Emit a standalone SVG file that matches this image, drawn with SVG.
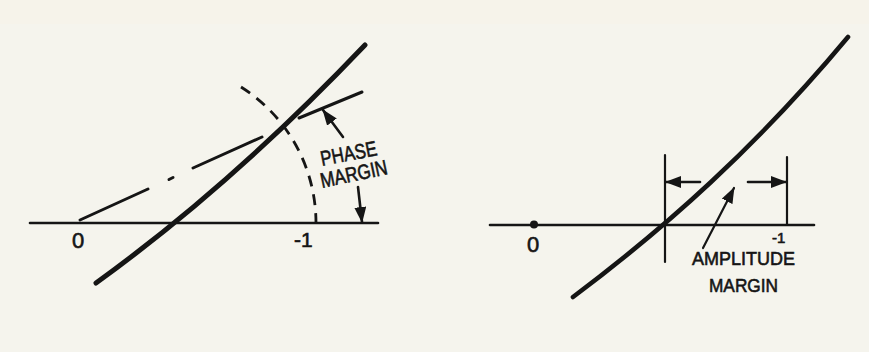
<svg xmlns="http://www.w3.org/2000/svg" width="869" height="352" viewBox="0 0 869 352">
<defs>
<style>
.ink{stroke:#151515;fill:none;stroke-linecap:round}
.axis{stroke-width:2.6}
.curve{stroke-width:5}
.thin{stroke-width:2.2}
.dd{stroke-width:3}
.arc{stroke-width:2.8;stroke-dasharray:11 8;stroke-linecap:butt}
.lbl{font-family:"Liberation Sans",Arial,sans-serif;fill:#151515;stroke:#151515;stroke-width:0.6}
</style>
<marker id="ah" viewBox="0 0 16 12" refX="15" refY="6" markerWidth="16" markerHeight="12" markerUnits="userSpaceOnUse" orient="auto">
<path d="M0,0 L16,6 L0,12 Z" fill="#151515"/>
</marker>
</defs>
<rect width="869" height="352" fill="#f5f4ed"/>
<rect width="869" height="24" fill="#f8f1e7" opacity="0.5"/>

<g id="left-axis"><line class="ink axis" x1="30" y1="223" x2="378" y2="223"/></g>
<g id="left-curve"><path class="ink curve" d="M96,283 C186,218 275,139.5 365,45"/></g>
<g id="left-dashdot">
<line class="ink dd" x1="80" y1="220" x2="148" y2="189"/>
<line class="ink dd" x1="169" y1="179.5" x2="173" y2="177.5"/>
<line class="ink dd" x1="193" y1="168" x2="262" y2="137"/>
<line class="ink dd" x1="299" y1="118" x2="362" y2="92"/>
</g>
<g id="left-arc"><path class="ink arc" d="M241,87 A161,161 0 0 1 316,223"/></g>
<g id="label-0-left"><text class="lbl" x="72" y="248" font-size="22">0</text></g>
<g id="label-m1-left"><text class="lbl" x="294" y="247" font-size="21">-1</text></g>
<g id="label-phase-margin">
<text class="lbl" font-size="21" textLength="57" lengthAdjust="spacingAndGlyphs" transform="translate(322,166) rotate(-11)">PHASE</text>
<text class="lbl" font-size="21" textLength="68" lengthAdjust="spacingAndGlyphs" transform="translate(322,188) rotate(-12)">MARGIN</text>
</g>

<g id="right-axis"><line class="ink axis" x1="490" y1="225" x2="814" y2="225"/>
<circle cx="534" cy="224.5" r="4" fill="#151515"/></g>
<g id="right-curve"><path class="ink curve" style="stroke-width:4.6" d="M573,297 C665,228 756,147.4 848,37"/></g>
<g id="right-bounds">
<line class="ink thin" x1="665" y1="155" x2="665" y2="262"/>
<line class="ink thin" x1="787" y1="157" x2="787" y2="225"/>
</g>
<g id="label-0-right"><text class="lbl" x="527" y="252" font-size="22">0</text></g>
<g id="label-m1-right"><text class="lbl" x="772" y="243" font-size="15">-1</text></g>
<g id="label-amplitude-margin">
<text class="lbl" x="692" y="265" font-size="19" textLength="103" lengthAdjust="spacingAndGlyphs">AMPLITUDE</text>
<text class="lbl" x="709" y="291.5" font-size="19" textLength="69" lengthAdjust="spacingAndGlyphs">MARGIN</text>
</g>

<g id="connectors">
<line class="ink thin" style="stroke-width:2.6" x1="343" y1="137" x2="323" y2="110" marker-end="url(#ah)"/>
<line class="ink thin" style="stroke-width:2.6" x1="358" y1="187" x2="362" y2="222" marker-end="url(#ah)"/>
<line class="ink thin" style="stroke-width:2.6" x1="700" y1="182" x2="666" y2="182" marker-end="url(#ah)"/>
<line class="ink thin" style="stroke-width:2.6" x1="748" y1="182" x2="786" y2="182" marker-end="url(#ah)"/>
<line class="ink thin" x1="703" y1="248" x2="734" y2="188" marker-end="url(#ah)"/>
</g>
</svg>
